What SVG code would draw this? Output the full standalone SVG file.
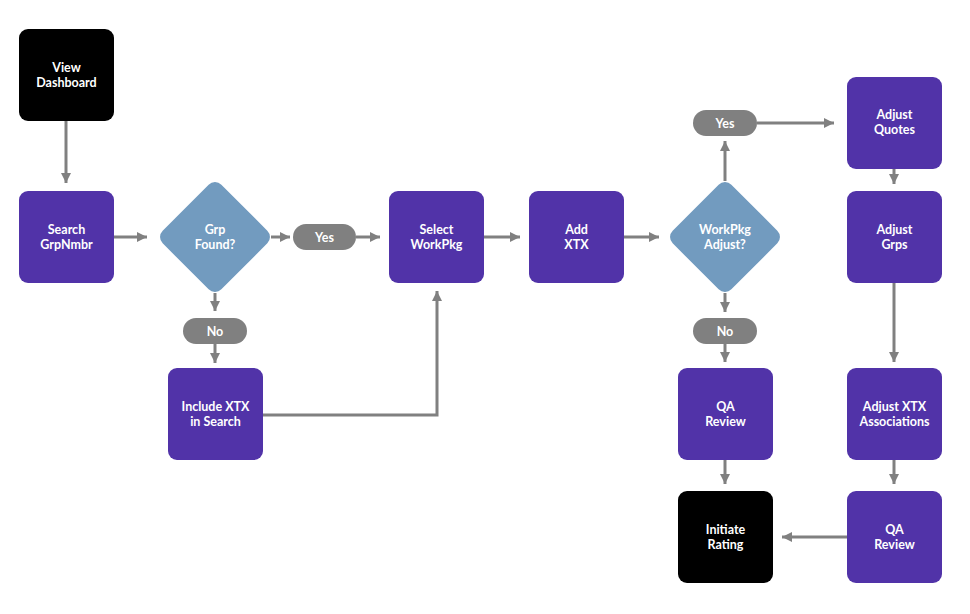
<svg xmlns="http://www.w3.org/2000/svg" width="970" height="614" viewBox="0 0 970 614">
<defs>
<style>
.box{fill:#5133A8}
.term{fill:#000000}
.dia{fill:#729BBF}
.pill{fill:#808080}
.t{font-family:Lato,"Noto Sans","Liberation Sans",sans-serif;font-weight:bold;font-size:12.5px;fill:#ffffff;text-anchor:middle}
.c{fill:none;stroke:#808080;stroke-width:3;marker-end:url(#ah)}
</style>
<marker id="ah" viewBox="0 0 10 10" refX="10" refY="5" markerWidth="10" markerHeight="10" markerUnits="userSpaceOnUse" orient="auto">
<path d="M0,0 L10,5 L0,10 z" fill="#808080"/>
</marker>
</defs>
<rect width="970" height="614" fill="#ffffff"/>
<g id="connectors">
<line class="c" x1="66" y1="121" x2="66" y2="183"/>
<line class="c" x1="114" y1="237" x2="147" y2="237"/>
<line class="c" x1="271" y1="237" x2="290" y2="237"/>
<line class="c" x1="356" y1="237" x2="380" y2="237"/>
<line class="c" x1="484" y1="237" x2="520" y2="237"/>
<line class="c" x1="624" y1="237" x2="659" y2="237"/>
<line class="c" x1="215" y1="293" x2="215" y2="311"/>
<line class="c" x1="215" y1="344" x2="215" y2="363"/>
<polyline class="c" points="263,415 437,415 437,291"/>
<line class="c" x1="725" y1="181" x2="725" y2="141"/>
<line class="c" x1="757" y1="123" x2="834" y2="123"/>
<line class="c" x1="894" y1="169" x2="894" y2="184"/>
<line class="c" x1="725" y1="293" x2="725" y2="312"/>
<line class="c" x1="725" y1="344" x2="725" y2="362"/>
<line class="c" x1="894" y1="283" x2="894" y2="362"/>
<line class="c" x1="725" y1="460" x2="725" y2="484"/>
<line class="c" x1="894" y1="460" x2="894" y2="484"/>
<line class="c" x1="847" y1="537" x2="782" y2="537"/>
</g>
<g id="view-dashboard">
<rect class="term" x="19" y="29" width="95" height="92" rx="9"/>
<text class="t" x="66.5" y="71.5">View</text>
<text class="t" x="66.5" y="86.5">Dashboard</text>
</g>
<g id="search-grpnmbr">
<rect class="box" x="19" y="191" width="95" height="92" rx="9"/>
<text class="t" x="66.5" y="233.5">Search</text>
<text class="t" x="66.5" y="248.5">GrpNmbr</text>
</g>
<g id="grp-found">
<rect class="dia" x="173.5" y="195.5" width="83" height="83" rx="9" transform="rotate(45 215 237)"/>
<text class="t" x="215" y="234">Grp</text>
<text class="t" x="215" y="249">Found?</text>
</g>
<g id="yes-1">
<rect class="pill" x="293" y="224" width="63" height="26" rx="13"/>
<text class="t" x="324.5" y="241.5">Yes</text>
</g>
<g id="no-1">
<rect class="pill" x="183" y="318" width="64" height="26" rx="13"/>
<text class="t" x="215" y="335.5">No</text>
</g>
<g id="include-xtx">
<rect class="box" x="168" y="368" width="95" height="92" rx="9"/>
<text class="t" x="215.5" y="410.5">Include XTX</text>
<text class="t" x="215.5" y="425.5">in Search</text>
</g>
<g id="select-workpkg">
<rect class="box" x="389" y="191" width="95" height="92" rx="9"/>
<text class="t" x="436.5" y="233.5">Select</text>
<text class="t" x="436.5" y="248.5">WorkPkg</text>
</g>
<g id="add-xtx">
<rect class="box" x="529" y="191" width="95" height="92" rx="9"/>
<text class="t" x="576.5" y="233.5">Add</text>
<text class="t" x="576.5" y="248.5">XTX</text>
</g>
<g id="workpkg-adjust">
<rect class="dia" x="683.5" y="195.5" width="83" height="83" rx="9" transform="rotate(45 725 237)"/>
<text class="t" x="725" y="234">WorkPkg</text>
<text class="t" x="725" y="249">Adjust?</text>
</g>
<g id="yes-2">
<rect class="pill" x="693" y="110" width="64" height="26" rx="13"/>
<text class="t" x="725" y="127.5">Yes</text>
</g>
<g id="no-2">
<rect class="pill" x="693" y="318" width="64" height="26" rx="13"/>
<text class="t" x="725" y="335.5">No</text>
</g>
<g id="qa-review-1">
<rect class="box" x="678" y="368" width="95" height="92" rx="9"/>
<text class="t" x="725.5" y="410.5">QA</text>
<text class="t" x="725.5" y="425.5">Review</text>
</g>
<g id="initiate-rating">
<rect class="term" x="678" y="491" width="95" height="92" rx="9"/>
<text class="t" x="725.5" y="533.5">Initiate</text>
<text class="t" x="725.5" y="548.5">Rating</text>
</g>
<g id="adjust-quotes">
<rect class="box" x="847" y="77" width="95" height="92" rx="9"/>
<text class="t" x="894.5" y="118.5">Adjust</text>
<text class="t" x="894.5" y="133.5">Quotes</text>
</g>
<g id="adjust-grps">
<rect class="box" x="847" y="191" width="95" height="92" rx="9"/>
<text class="t" x="894.5" y="233.5">Adjust</text>
<text class="t" x="894.5" y="248.5">Grps</text>
</g>
<g id="adjust-xtx-associations">
<rect class="box" x="847" y="368" width="95" height="92" rx="9"/>
<text class="t" x="894.5" y="410.5">Adjust XTX</text>
<text class="t" x="894.5" y="425.5">Associations</text>
</g>
<g id="qa-review-2">
<rect class="box" x="847" y="491" width="95" height="92" rx="9"/>
<text class="t" x="894.5" y="533.5">QA</text>
<text class="t" x="894.5" y="548.5">Review</text>
</g>
</svg>
